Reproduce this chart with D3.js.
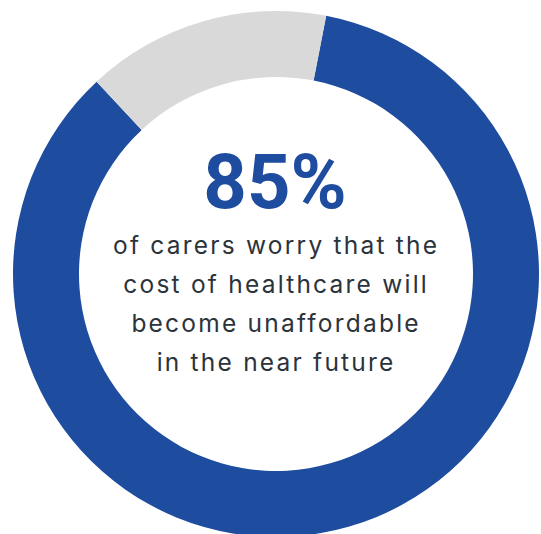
<!DOCTYPE html>
<html><head><meta charset="utf-8">
<script src="https://cdn.jsdelivr.net/npm/d3@7"></script>
<style>html,body{margin:0;padding:0;background:#fff;}svg{display:block;}</style>
</head><body>
<svg id="chart" width="541" height="534"></svg>
<script>
const categories = ["Worry", "Do not worry"];
const values = [85, 15];
const colors = ["#1e4c9e", "#d9d9d9"];
const headline = "85%";
const bodyLines = ["of carers worry that the", "cost of healthcare will", "become unaffordable", "in the near future"];

const svg = d3.select("#chart");
const cx = 276, cy = 274, outerR = 263, innerR = 197;
const g = svg.append("g").attr("transform", `translate(${cx},${cy})`);
const start = 11 * Math.PI / 180;
const pie = d3.pie().sort(null).value(d => d).startAngle(start).endAngle(start + 2 * Math.PI);
const arc = d3.arc().innerRadius(innerR).outerRadius(outerR);
g.selectAll("path").data(pie(values)).join("path")
  .attr("d", arc).attr("fill", (d, i) => colors[i]);

g.append("text").text(headline)
  .attr("x", -1).attr("y", 208 - cy)
  .attr("text-anchor", "middle")
  .attr("font-family", "Roboto, sans-serif").attr("font-weight", 700)
  .attr("font-size", 76).attr("fill", "#1e4c9e");

const body = g.selectAll("text.body").data(bodyLines).join("text").attr("class", "body")
  .text(d => d)
  .attr("x", -1).attr("y", (d, i) => 254 - cy + i * 39)
  .attr("text-anchor", "middle")
  .attr("font-family", "Inter, sans-serif").attr("font-weight", 400)
  .attr("font-size", 24.5).attr("fill", "#2b333b");

// letter spacing tuned so the first line spans the same width as in the reference
const first = body.nodes()[0];
const w0 = first.getComputedTextLength();
const n0 = bodyLines[0].length;
const ls = (324 - w0) / (n0 - 1);
body.attr("letter-spacing", ls + "px");
body.attr("dx", ls / 2);
</script>
</body></html>
